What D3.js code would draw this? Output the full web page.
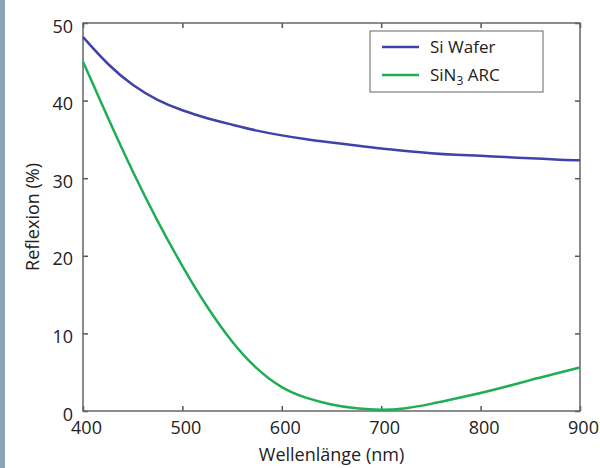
<!DOCTYPE html>
<html>
<head>
<meta charset="utf-8">
<script src="https://cdn.jsdelivr.net/npm/d3@7"></script>
<style>
  body { margin: 0; background: #fff; }
  text { font-family: "Open Sans", sans-serif; fill: #222; }
</style>
</head>
<body>
<div id="chart"></div>
<script>
// wavelengths (nm) and reflexion values (%)
const wavelengths = [400, 425, 450, 475, 500, 525, 550, 575, 600, 625, 650, 675, 700, 725, 750, 775, 800, 825, 850, 875, 900];
const siWafer = [48.2, 44.6, 41.9, 40.0, 38.7, 37.7, 36.9, 36.1, 35.5, 35.0, 34.6, 34.2, 33.8, 33.5, 33.2, 33.0, 32.9, 32.7, 32.6, 32.4, 32.3];
const sinArc = [45.0, 37.8, 30.8, 24.4, 18.6, 13.3, 8.8, 5.3, 2.9, 1.6, 0.8, 0.3, 0.1, 0.3, 0.9, 1.6, 2.3, 3.1, 4.0, 4.8, 5.6];
const xTicks = [400, 500, 600, 700, 800, 900];
const yTicks = [0, 10, 20, 30, 40, 50];
const seriesNames = ["Si Wafer", "SiN3 ARC"];
const seriesColors = ["#3d43a8", "#1fae55"];

const margin = {top: 23, right: 20, bottom: 57, left: 83},
    width = 600 - margin.left - margin.right,
    height = 468 - margin.top - margin.bottom;

const root = d3.select("#chart")
  .append("svg")
  .attr("width", 600)
  .attr("height", 468);

// blue-grey strip on the left edge
root.append("rect")
  .attr("x", 0).attr("y", 0)
  .attr("width", 5).attr("height", 468)
  .attr("fill", "#8ea4b4");

const svg = root.append("g")
  .attr("transform", `translate(${margin.left}, ${margin.top})`);

const x = d3.scaleLinear()
  .domain([400, 900])
  .range([0, width]);

const y = d3.scaleLinear()
  .domain([0, 50])
  .range([height, 0]);

svg.append("rect")
  .attr("width", width)
  .attr("height", height)
  .attr("fill", "#fff");

// axes, ticks pointing inward
const bottom = svg.append("g")
  .attr("transform", `translate(0, ${height})`)
  .call(d3.axisBottom(x).tickValues(xTicks).tickSizeInner(-5).tickSizeOuter(0).tickPadding(10));
bottom.selectAll("text").attr("dx", 3);

svg.append("g")
  .call(d3.axisTop(x).tickValues(xTicks).tickSizeInner(-5).tickSizeOuter(0).tickFormat(""));

const left = svg.append("g")
  .call(d3.axisLeft(y).tickValues(yTicks).tickSizeInner(-5).tickSizeOuter(0).tickPadding(10));
left.selectAll("text").attr("dy", "0.5em");

svg.append("g")
  .attr("transform", `translate(${width}, 0)`)
  .call(d3.axisRight(y).tickValues(yTicks).tickSizeInner(-5).tickSizeOuter(0).tickFormat(""));

svg.selectAll(".domain").remove();
svg.selectAll(".tick line").attr("stroke", "#555").attr("stroke-width", 1.5);
svg.selectAll(".tick text").style("font-size", "18px").attr("fill", "#222");

// frame
svg.append("rect")
  .attr("width", width)
  .attr("height", height)
  .attr("fill", "none")
  .attr("stroke", "#666")
  .attr("stroke-width", 1.5);

// curves, smoothed through the read values
const line = d3.line()
  .x((d, i) => x(wavelengths[i]))
  .y(d => y(d))
  .curve(d3.curveBasis);

[siWafer, sinArc].forEach((s, k) => {
  svg.append("path")
    .datum(s)
    .attr("fill", "none")
    .attr("stroke", seriesColors[k])
    .attr("stroke-width", 2.5)
    .attr("d", line);
});

// legend
const legend = svg.append("g")
  .attr("transform", `translate(${370 - margin.left}, ${31 - margin.top})`);

legend.append("rect")
  .attr("width", 173)
  .attr("height", 61)
  .attr("fill", "#fff")
  .attr("stroke", "#666")
  .attr("stroke-width", 1);

seriesNames.forEach((name, i) => {
  const ly = 16 + i * 28;
  legend.append("line")
    .attr("x1", 12).attr("x2", 49)
    .attr("y1", ly).attr("y2", ly)
    .attr("stroke", seriesColors[i])
    .attr("stroke-width", 2.5);
  const t = legend.append("text")
    .attr("x", 60)
    .attr("y", ly + 6)
    .style("font-size", "17px");
  if (name === "SiN3 ARC") {
    t.append("tspan").text("SiN");
    t.append("tspan").text("3").attr("dy", 4).style("font-size", "12px");
    t.append("tspan").text(" ARC").attr("dy", -4);
  } else {
    t.text(name);
  }
});

// axis titles
root.append("text")
  .attr("x", margin.left + width / 2)
  .attr("y", 461)
  .attr("text-anchor", "middle")
  .style("font-size", "18px")
  .text("Wellenlänge (nm)");

root.append("text")
  .attr("transform", `translate(39, ${margin.top + height / 2}) rotate(-90)`)
  .attr("text-anchor", "middle")
  .style("font-size", "18px")
  .text("Reflexion (%)");
</script>
</body>
</html>
